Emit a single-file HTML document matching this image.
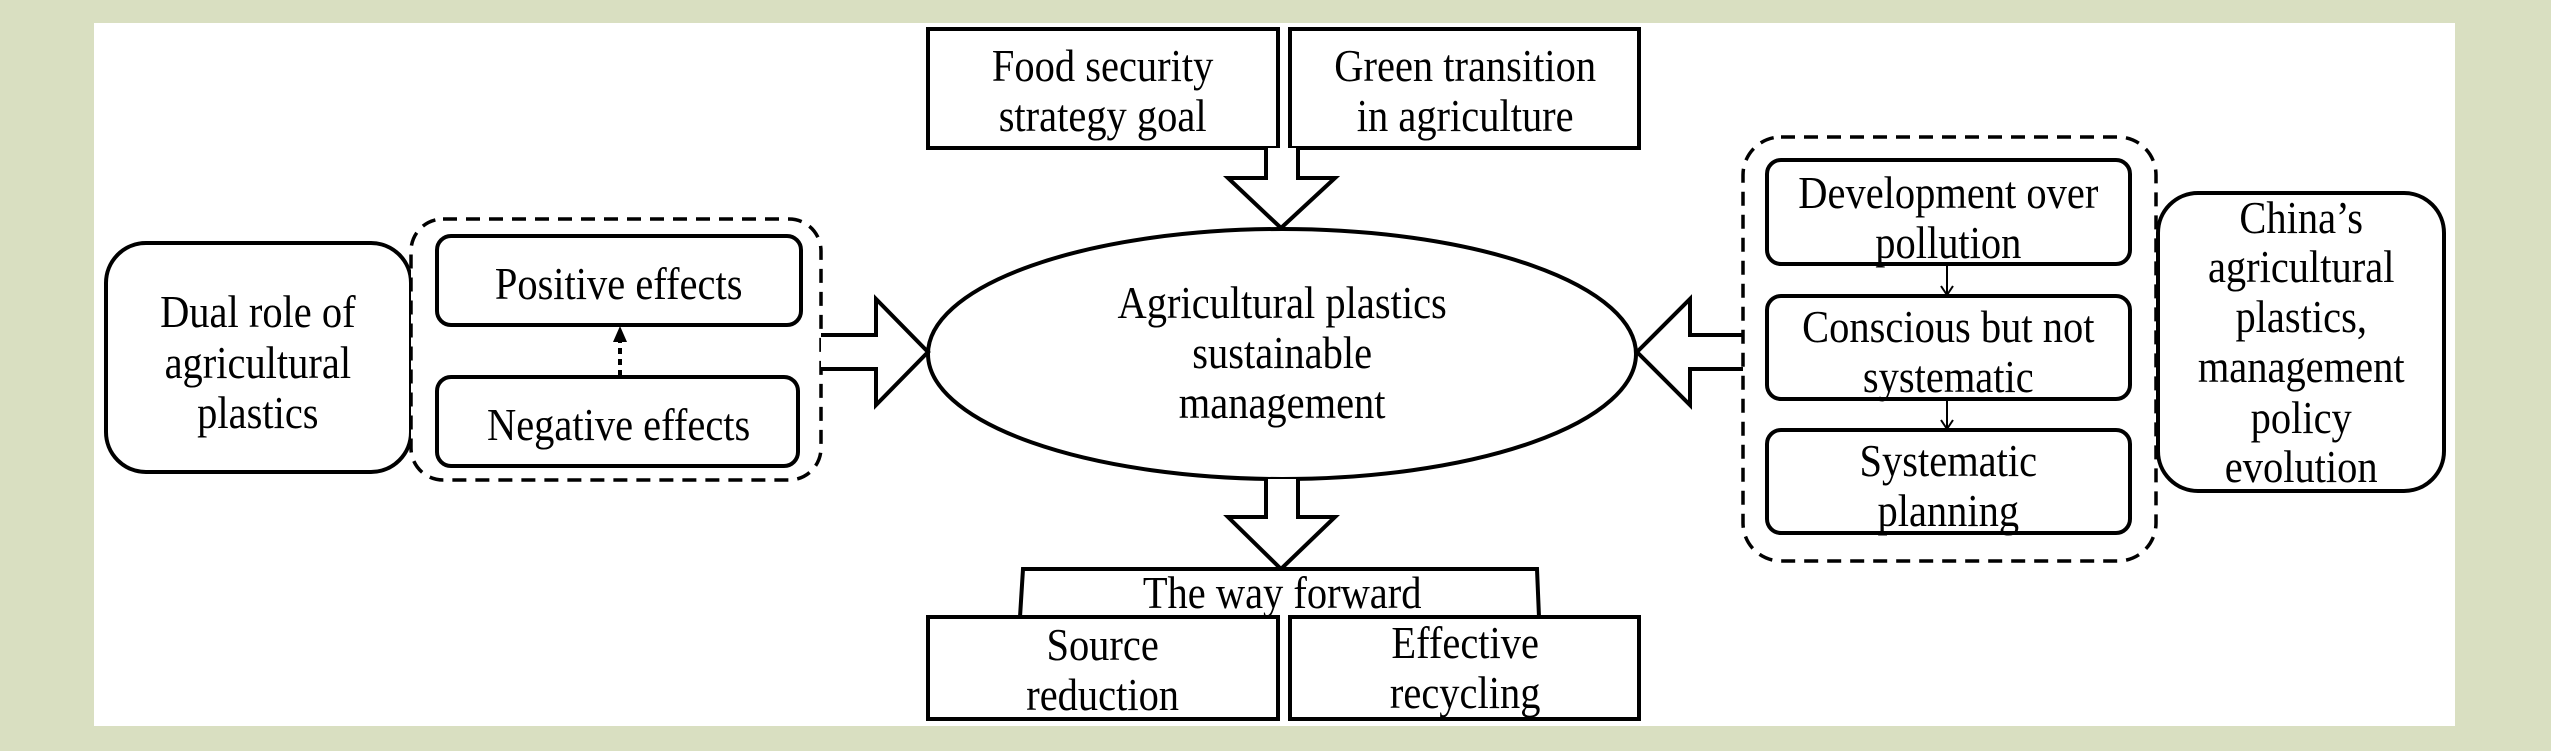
<!DOCTYPE html>
<html><head><meta charset="utf-8"><style>
html,body{margin:0;padding:0;background:#d9dfc1;}
svg{display:block;}
text{font-family:"Liberation Serif",serif;font-size:46px;fill:#000;text-anchor:middle;}
</style></head><body>
<svg width="2551" height="751" xmlns="http://www.w3.org/2000/svg">
<rect x="94" y="23" width="2361" height="703" fill="#fff"/>
<g fill="#fff" stroke="#000" stroke-width="4">
<rect x="928" y="29" width="350" height="119"/>
<rect x="1290" y="29" width="349" height="119"/>
<path d="M1266 148 V178 H1228 L1281 228 L1335 178 H1298 V148"/>
<ellipse cx="1282" cy="354" rx="354" ry="125"/>
<path d="M1266 479 V517 H1228 L1281 569 L1335 517 H1298 V479"/>
<path d="M1020 617 L1023 569 H1537 L1539 617"/>
<rect x="928" y="617" width="350" height="102"/>
<rect x="1290" y="617" width="349" height="102"/>
<rect x="106" y="243" width="305" height="229" rx="40" ry="40"/>
<rect x="411" y="219" width="410" height="261" rx="32" ry="32" stroke-dasharray="14,9" stroke-width="3.5"/>
<rect x="437" y="236" width="364" height="89" rx="14" ry="14"/>
<rect x="437" y="377" width="361" height="89" rx="14" ry="14"/>
<path d="M821 335 H876 V299 L928 352 L876 405 V369 H821"/>
<path d="M1743 335 H1690 V299 L1637 352 L1690 405 V369 H1743"/>
<rect x="1743" y="137" width="413" height="424" rx="38" ry="38" stroke-dasharray="14,9" stroke-width="3.5"/>
<rect x="1767" y="160" width="363" height="104" rx="14" ry="14"/>
<rect x="1767" y="296" width="363" height="103" rx="14" ry="14"/>
<rect x="1767" y="430" width="363" height="103" rx="14" ry="14"/>
<rect x="2158" y="193" width="286" height="298" rx="40" ry="40"/>
</g>
<g stroke="#000" stroke-width="2" fill="none">
<path d="M1947 264 V295 M1941 286 L1947 295 L1953 286"/>
<path d="M1947 399 V429 M1941 420 L1947 429 L1953 420"/>
</g>
<path d="M620 376 V340" stroke="#000" stroke-width="4" stroke-dasharray="6,5"/>
<path d="M613 342 L620 326 L627 342 Z" fill="#000"/>
<g transform="scale(0.88,1)">
<text x="1253" y="81">Food security</text>
<text x="1253" y="131">strategy goal</text>
<text x="1665" y="81">Green transition</text>
<text x="1665" y="131">in agriculture</text>
<text x="1457" y="318">Agricultural plastics</text>
<text x="1457" y="368">sustainable</text>
<text x="1457" y="418">management</text>
<text x="1457" y="608">The way forward</text>
<text x="1253" y="660">Source</text>
<text x="1253" y="710">reduction</text>
<text x="1665" y="658">Effective</text>
<text x="1665" y="708">recycling</text>
<text x="293" y="327">Dual role of</text>
<text x="293" y="378">agricultural</text>
<text x="293" y="428">plastics</text>
<text x="703" y="299">Positive effects</text>
<text x="703" y="440">Negative effects</text>
<text x="2214" y="208">Development over</text>
<text x="2214" y="258">pollution</text>
<text x="2214" y="342">Conscious but not</text>
<text x="2214" y="392">systematic</text>
<text x="2214" y="476">Systematic</text>
<text x="2214" y="526">planning</text>
<text x="2615" y="233">China’s</text>
<text x="2615" y="282">agricultural</text>
<text x="2615" y="332">plastics,</text>
<text x="2615" y="382">management</text>
<text x="2615" y="433">policy</text>
<text x="2615" y="482">evolution</text>
</g>
</svg>
</body></html>
